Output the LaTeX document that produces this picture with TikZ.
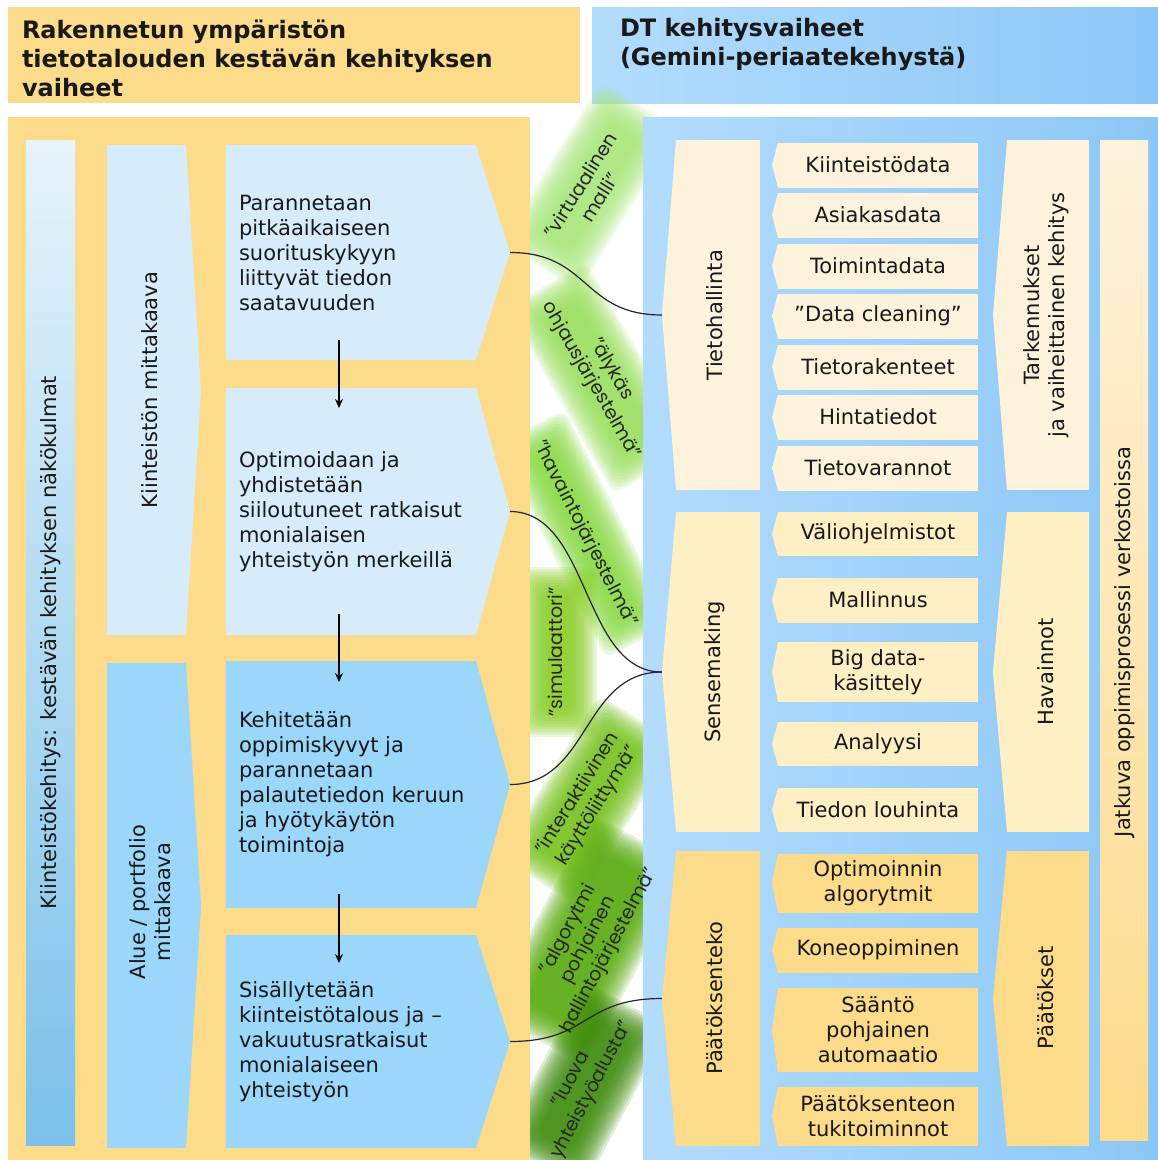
\documentclass[tikz,border=0pt]{standalone}
\usepackage{fontspec}
\setmainfont{DejaVu Sans}
\newfontfamily\vihfont{Poppins}
\usepackage{tikz}
\usetikzlibrary{arrows.meta,positioning,calc}
\definecolor{keltainen}{HTML}{FCDB8A}
\definecolor{kerma}{HTML}{FDF2DC}
\definecolor{vkerma}{HTML}{FEEFC5}
\definecolor{vaalsin}{HTML}{D6ECFB}
\definecolor{sininen}{HTML}{9AD7FA}
\definecolor{tausin}{HTML}{B3DCFC}
\definecolor{tumsin}{HTML}{8BC7F6}
\definecolor{palkki1}{HTML}{E6F4FB}
\definecolor{palkki2}{HTML}{7BC0E9}
\definecolor{vih1}{HTML}{A8E87A}
\definecolor{vih2}{HTML}{98E05A}
\definecolor{vih3}{HTML}{88DA40}
\definecolor{vih4}{HTML}{88CE20}
\definecolor{vih5}{HTML}{74C218}
\definecolor{vih6}{HTML}{56AA0A}
\definecolor{vih7}{HTML}{3A8A06}

\begin{document}
\begin{tikzpicture}[x=1pt, y=-1pt,
  every node/.style={outer sep=0pt, inner sep=0pt},
  teksti/.style={font=\fontsize{21}{25}\selectfont, text=black!90},
  otsikko/.style={font=\fontsize{24}{29}\selectfont\bfseries, align=left, anchor=west, text=black!90},
  kohta/.style={teksti, fill=#1, minimum width=200pt, align=center},
  pysty/.style={teksti, rotate=90, align=center},
  vihrea/.style={font=\vihfont\fontsize{19}{23}\selectfont, align=center, text=black!85},
  nuoli/.style={-{Stealth[length=9pt, width=8pt]}, line width=1.1pt},
  kaari/.style={line width=1.2pt, black!85}]
  \useasboundingbox (0,0) rectangle (1158,1160);
  \clip (0,0) rectangle (1158,1160);
  \fill[white] (0,0) rectangle (1158,1160);

  \node[fill=keltainen, minimum width=572pt, minimum height=96pt] (ots1) at (294,55) {};
  \node[otsikko] (ots1t) at (22,58) {Rakennetun ympäristön\\tietotalouden kestävän kehityksen\\vaiheet};
  \node[left color=tausin, right color=tumsin, minimum width=566pt, minimum height=96pt] (ots2) at (875,55) {};
  \node[otsikko] (ots2t) at (620,44) {DT kehitysvaiheet\\(Gemini-periaatekehystä)};

  % vihreat taustat
  \foreach \x/\y/\r/\l/\w/\c in {590/186/58/190/92/vih1, 600/378/-60/215/92/vih2,
      585/534/-63/240/76/vih3, 558/652/90/170/78/vih4, 588/800/58/190/92/vih5,
      589/940/62/225/112/vih6, 584/1086/62/185/96/vih7} {
    \foreach \k in {0,...,11}
      \fill[\c, opacity=0.16, rounded corners=10pt, rotate around={\r:(\x,\y)}]
        (\x-\l/2+\k*2.6, \y-\w/2+\k*2.6) rectangle (\x+\l/2-\k*2.6, \y+\w/2-\k*2.6);
  }

  \node[fill=keltainen, minimum width=522pt, minimum height=1043pt] (vas) at (269,638.5) {};
  \node[left color=tausin, right color=tumsin, minimum width=515pt, minimum height=1043pt] (oik) at (900.5,638.5) {};

  \node[top color=palkki1, bottom color=palkki2, minimum width=49pt, minimum height=1005pt] (palkki) at (50.5,642.5) {};
  \node[pysty] (palkkit) at (palkki) {Kiinteistökehitys: kestävän kehityksen näkökulmat};

  \node[fill=vaalsin, minimum width=79pt, minimum height=490pt] (m1) at (146.5,390) {};
  \node[fill=sininen, minimum width=79pt, minimum height=485pt] (m2) at (146.5,905.5) {};
  \foreach \n/\c in {m1/vaalsin, m2/sininen}
    \fill[\c] (\n.north east) -- ([xshift=15pt]\n.east) -- (\n.south east) -- cycle;
  \node[pysty] (m1t) at (150,390) {Kiinteistön mittakaava};
  \node[pysty] (m2t) at (150,902) {Alue / portfolio\\mittakaava};

  \node[fill=vaalsin, minimum width=250pt, minimum height=215pt] (s1) at (351,252.5) {};
  \node[fill=vaalsin, minimum width=250pt, minimum height=247pt] (s2) at (351,511.5) {};
  \node[fill=sininen, minimum width=250pt, minimum height=247pt] (s3) at (351,784.5) {};
  \node[fill=sininen, minimum width=250pt, minimum height=213pt] (s4) at (351,1041.5) {};
  \foreach \n/\c in {s1/vaalsin, s2/vaalsin, s3/sininen, s4/sininen}
    \fill[\c] (\n.north east) -- ([xshift=34pt]\n.east) coordinate (k\n) -- (\n.south east) -- cycle;
  \node[teksti, anchor=west, align=left] (s1t) at ([xshift=13pt]s1.west) {Parannetaan\\pitkäaikaiseen\\suorituskykyyn\\liittyvät tiedon\\saatavuuden};
  \node[teksti, anchor=west, align=left] (s2t) at ([xshift=13pt]s2.west) {Optimoidaan ja\\yhdistetään\\siiloutuneet ratkaisut\\monialaisen\\yhteistyön merkeillä};
  \node[teksti, anchor=west, align=left] (s3t) at ([xshift=13pt]s3.west) {Kehitetään\\oppimiskyvyt ja\\parannetaan\\palautetiedon keruun\\ja hyötykäytön\\toimintoja};
  \node[teksti, anchor=west, align=left] (s4t) at ([xshift=13pt]s4.west) {Sisällytetään\\kiinteistötalous ja –\\vakuutusratkaisut\\monialaiseen\\yhteistyön};
  \foreach \a/\b/\u/\v in {s1/s2/20/20, s2/s3/21/21, s3/s4/14/28}
    \draw[nuoli] ([xshift=-12pt,yshift=\u pt]\a.south) -- ([xshift=-12pt,yshift=-\v pt]\b.north);

  \foreach \n/\y/\h/\c in {g1/315/350/kerma, g2/672/320/vkerma, g3/998.5/295/keltainen} {
    \node[fill=\c, minimum width=84pt, minimum height=\h pt] (\n) at (718,\y) {};
    \fill[\c] (\n.north west) -- ([xshift=-14pt]\n.west) coordinate (k\n) -- (\n.south west) -- cycle;
  }
  \foreach \n/\y/\h/\c in {h1/315/350/kerma, h2/672/320/vkerma, h3/998.5/295/keltainen} {
    \node[fill=\c, minimum width=82pt, minimum height=\h pt] (\n) at (1048,\y) {};
    \fill[\c] (\n.north west) -- ([xshift=-14pt]\n.west) -- (\n.south west) -- cycle;
  }
  \node[pysty] (g1t) at (715,315) {Tietohallinta};
  \node[pysty] (g2t) at (715,672) {Sensemaking};
  \node[pysty] (g3t) at (715,998) {Päätöksenteko};
  \node[pysty] (h1t) at (1046,315) {Tarkennukset\\ja vaiheittainen kehitys};
  \node[pysty] (h2t) at (1046,672) {Havainnot};
  \node[pysty] (h3t) at (1046,998) {Päätökset};

  \node[top color=kerma, bottom color=keltainen, minimum width=48pt, minimum height=1000pt] (jatkuva) at (1124,640) {};
  \node[pysty] (jatkuvat) at (1125,642) {Jatkuva oppimisprosessi verkostoissa};

  \foreach \y/\h/\t [count=\i] in {165/45/Kiinteistödata, 215/45/Asiakasdata, 266/45/Toimintadata,
      316/45/”Data cleaning”, 367/45/Tietorakenteet, 417/45/Hintatiedot, 468/45/Tietovarannot} {
    \node[kohta=kerma, minimum height=\h pt] (a\i) at (878,\y) {\t};
    \fill[kerma] (a\i.north west) -- ([xshift=-6pt]a\i.west) -- (a\i.south west) -- cycle;
  }
  \foreach \y/\h/\t [count=\i] in {534/44/Väliohjelmistot, 600/45/Mallinnus, 672/60/{Big data-\\käsittely},
      744/44/Analyysi, 810/44/Tiedon louhinta} {
    \node[kohta=vkerma, minimum height=\h pt] (b\i) at (878,\y) {\t};
    \fill[vkerma] (b\i.north west) -- ([xshift=-6pt]b\i.west) -- (b\i.south west) -- cycle;
  }
  \foreach \y/\h/\t [count=\i] in {883/59/{Optimoinnin\\algorytmit}, 950/45/Koneoppiminen,
      1030/84/{Sääntö\\pohjainen\\automaatio}, 1116/59/{Päätöksenteon\\tukitoiminnot}} {
    \node[kohta=keltainen, minimum height=\h pt] (c\i) at (878,\y) {\t};
    \fill[keltainen] (c\i.north west) -- ([xshift=-6pt]c\i.west) -- (c\i.south west) -- cycle;
  }

  \node[vihrea, rotate=58] (v1) at (590,191) {”virtuaalinen\\malli”};
  \node[vihrea, rotate=-60] (v2) at (601,375) {”älykäs\\ohjausjärjestelmä”};
  \node[vihrea, rotate=-63] (v3) at (585,534) {”havaintojärjestelmä”};
  \node[vihrea, rotate=90] (v4) at (555,652) {”simulaattori”};
  \node[vihrea, rotate=58] (v5) at (588,800) {”interaktiivinen\\käyttöliittymä”};
  \node[vihrea, rotate=62] (v6) at (589,940) {”algorytmi\\pohjainen\\hallintojärjestelmä”};
  \node[vihrea, rotate=62] (v7) at (582,1085) {”luova\\yhteistyöalusta”};

  \foreach \a/\b in {s1/g1, s2/g2, s3/g2, s4/g3}
    \draw[kaari] (k\a) .. controls +(80pt,0pt) and +(-80pt,0pt) .. (k\b);
\end{tikzpicture}
\end{document}
